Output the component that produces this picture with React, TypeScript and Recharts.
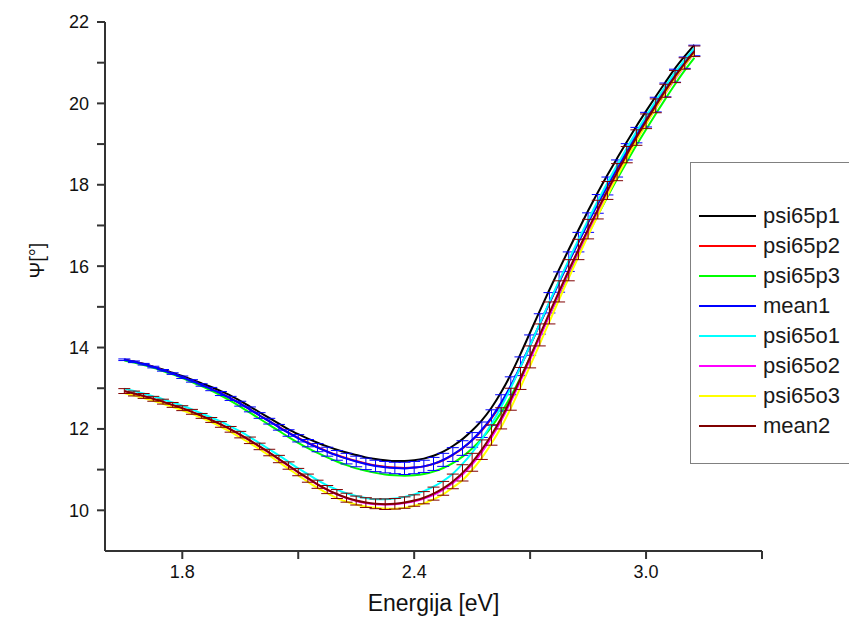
import React from "react";
import { LineChart, Line, XAxis, YAxis, ErrorBar } from "recharts";

// photon energy [eV]
const energy = [
  1.65, 1.675, 1.7, 1.725, 1.75, 1.775, 1.8, 1.825, 1.85, 1.875,
  1.9, 1.925, 1.95, 1.975, 2.0, 2.025, 2.05, 2.075, 2.1, 2.125,
  2.15, 2.175, 2.2, 2.225, 2.25, 2.275, 2.3, 2.325, 2.35, 2.375,
  2.4, 2.425, 2.45, 2.475, 2.5, 2.525, 2.55, 2.575, 2.6, 2.625,
  2.65, 2.675, 2.7, 2.725, 2.75, 2.775, 2.8, 2.825, 2.85, 2.875,
  2.9, 2.925, 2.95, 2.975, 3.0, 3.025, 3.05, 3.075, 3.1, 3.125,
];

const psi65p1 = [
  13.71, 13.66, 13.6, 13.53, 13.46, 13.38, 13.3, 13.21, 13.12, 13.03,
  12.93, 12.82, 12.69, 12.55, 12.41, 12.27, 12.13, 11.99, 11.87, 11.76,
  11.66, 11.57, 11.49, 11.42, 11.36, 11.3, 11.26, 11.23, 11.21, 11.21,
  11.23, 11.27, 11.34, 11.44, 11.58, 11.75, 11.96, 12.21, 12.52, 12.9,
  13.34, 13.84, 14.37, 14.9, 15.42, 15.92, 16.41, 16.89, 17.36, 17.81,
  18.24, 18.65, 19.05, 19.44, 19.81, 20.17, 20.52, 20.86, 21.16, 21.44,
];

const psi65p2 = [
  13.7, 13.65, 13.59, 13.52, 13.44, 13.36, 13.27, 13.18, 13.08, 12.98,
  12.87, 12.75, 12.62, 12.48, 12.33, 12.19, 12.05, 11.91, 11.78, 11.66,
  11.55, 11.45, 11.36, 11.28, 11.21, 11.15, 11.1, 11.07, 11.05, 11.04,
  11.05, 11.08, 11.14, 11.23, 11.36, 11.52, 11.72, 11.96, 12.26, 12.62,
  13.04, 13.52, 14.04, 14.57, 15.09, 15.6, 16.1, 16.59, 17.07, 17.53,
  17.98, 18.41, 18.83, 19.24, 19.63, 20.0, 20.37, 20.72, 21.04, 21.34,
];

const psi65p3 = [
  13.68, 13.63, 13.57, 13.5, 13.42, 13.34, 13.25, 13.15, 13.05, 12.94,
  12.82, 12.69, 12.55, 12.4, 12.25, 12.1, 11.95, 11.8, 11.66, 11.53,
  11.41, 11.3, 11.2, 11.11, 11.03, 10.97, 10.92, 10.88, 10.86, 10.85,
  10.86, 10.89, 10.95, 11.04, 11.16, 11.32, 11.52, 11.76, 12.05, 12.4,
  12.8, 13.26, 13.76, 14.28, 14.8, 15.31, 15.81, 16.3, 16.78, 17.25,
  17.7, 18.14, 18.56, 18.97, 19.36, 19.74, 20.11, 20.47, 20.81, 21.12,
];

const mean1 = [
  13.7, 13.65, 13.59, 13.52, 13.44, 13.36, 13.27, 13.18, 13.08, 12.98,
  12.87, 12.75, 12.62, 12.48, 12.33, 12.19, 12.04, 11.9, 11.77, 11.65,
  11.54, 11.44, 11.35, 11.27, 11.2, 11.14, 11.09, 11.06, 11.04, 11.03,
  11.05, 11.08, 11.14, 11.24, 11.37, 11.53, 11.73, 11.98, 12.28, 12.64,
  13.06, 13.54, 14.06, 14.58, 15.1, 15.61, 16.11, 16.59, 17.07, 17.53,
  17.97, 18.4, 18.81, 19.22, 19.6, 19.97, 20.33, 20.68, 21.0, 21.3,
];

const mean1Err = [
  0.02, 0.02, 0.02, 0.02, 0.02, 0.02, 0.03, 0.03, 0.03, 0.04,
  0.05, 0.05, 0.06, 0.06, 0.07, 0.07, 0.07, 0.08, 0.09, 0.09,
  0.1, 0.11, 0.12, 0.13, 0.13, 0.14, 0.14, 0.14, 0.14, 0.15,
  0.15, 0.15, 0.16, 0.16, 0.17, 0.18, 0.18, 0.19, 0.19, 0.2,
  0.22, 0.23, 0.25, 0.25, 0.25, 0.25, 0.24, 0.24, 0.24, 0.23,
  0.22, 0.21, 0.2, 0.19, 0.18, 0.18, 0.17, 0.16, 0.14, 0.13,
];

const psi65o1 = [
  12.99, 12.93, 12.87, 12.8, 12.73, 12.65, 12.57, 12.48, 12.38, 12.28,
  12.18, 12.06, 11.94, 11.8, 11.65, 11.5, 11.35, 11.19, 11.03, 10.89,
  10.74, 10.61, 10.51, 10.42, 10.35, 10.3, 10.27, 10.27, 10.29, 10.33,
  10.39, 10.47, 10.58, 10.72, 10.9, 11.14, 11.42, 11.75, 12.12, 12.54,
  13.01, 13.52, 14.05, 14.59, 15.12, 15.64, 16.15, 16.65, 17.13, 17.6,
  18.05, 18.48, 18.9, 19.3, 19.69, 20.06, 20.42, 20.76, 21.07, 21.36,
];

const psi65o2 = [
  12.92, 12.86, 12.8, 12.73, 12.66, 12.58, 12.5, 12.41, 12.31, 12.21,
  12.1, 11.98, 11.85, 11.71, 11.56, 11.41, 11.25, 11.09, 10.93, 10.78,
  10.63, 10.5, 10.39, 10.3, 10.23, 10.18, 10.15, 10.14, 10.15, 10.18,
  10.22, 10.29, 10.38, 10.51, 10.67, 10.88, 11.13, 11.43, 11.79, 12.2,
  12.67, 13.18, 13.71, 14.25, 14.79, 15.32, 15.84, 16.35, 16.85, 17.33,
  17.8, 18.25, 18.68, 19.1, 19.5, 19.88, 20.25, 20.6, 20.93, 21.24,
];

const psi65o3 = [
  12.88, 12.82, 12.76, 12.69, 12.62, 12.54, 12.46, 12.37, 12.27, 12.17,
  12.05, 11.93, 11.79, 11.65, 11.5, 11.35, 11.18, 11.02, 10.86, 10.7,
  10.55, 10.42, 10.3, 10.21, 10.14, 10.09, 10.06, 10.04, 10.04, 10.06,
  10.11, 10.17, 10.27, 10.39, 10.56, 10.74, 10.99, 11.29, 11.64, 12.04,
  12.51, 13.02, 13.55, 14.09, 14.64, 15.18, 15.71, 16.23, 16.75, 17.24,
  17.73, 18.2, 18.64, 19.08, 19.49, 19.88, 20.26, 20.62, 20.94, 21.24,
];

const mean2 = [
  12.93, 12.87, 12.81, 12.74, 12.67, 12.59, 12.51, 12.42, 12.32, 12.22,
  12.11, 11.99, 11.86, 11.72, 11.57, 11.42, 11.26, 11.1, 10.94, 10.79,
  10.64, 10.51, 10.4, 10.31, 10.24, 10.19, 10.16, 10.15, 10.16, 10.19,
  10.24, 10.31, 10.41, 10.54, 10.71, 10.92, 11.18, 11.49, 11.85, 12.26,
  12.73, 13.24, 13.77, 14.31, 14.85, 15.38, 15.9, 16.41, 16.91, 17.39,
  17.86, 18.31, 18.74, 19.16, 19.56, 19.94, 20.31, 20.66, 20.98, 21.28,
];

const mean2Err = [
  0.06, 0.06, 0.06, 0.06, 0.06, 0.06, 0.06, 0.06, 0.06, 0.06,
  0.07, 0.07, 0.08, 0.08, 0.08, 0.08, 0.09, 0.09, 0.09, 0.1,
  0.1, 0.1, 0.11, 0.11, 0.11, 0.12, 0.12, 0.13, 0.13, 0.14,
  0.14, 0.15, 0.16, 0.17, 0.18, 0.2, 0.22, 0.24, 0.25, 0.26,
  0.27, 0.27, 0.27, 0.27, 0.27, 0.26, 0.26, 0.25, 0.24, 0.23,
  0.22, 0.21, 0.2, 0.19, 0.18, 0.17, 0.16, 0.15, 0.14, 0.13,
];

const xTicks = [1.8, 2.1, 2.4, 2.7, 3.0, 3.3];
const xLabels = ["1.8", "", "2.4", "", "3.0", ""];
const yTicks = [10, 11, 12, 13, 14, 15, 16, 17, 18, 19, 20, 21, 22];

const series = [
  { key: "psi65p1", name: "psi65p1", color: "#000000" },
  { key: "psi65p2", name: "psi65p2", color: "#ff0000" },
  { key: "psi65p3", name: "psi65p3", color: "#00ff00" },
  { key: "mean1", name: "mean1", color: "#0000ff", err: "mean1Err" },
  { key: "psi65o1", name: "psi65o1", color: "#00ffff" },
  { key: "psi65o2", name: "psi65o2", color: "#ff00ff" },
  { key: "psi65o3", name: "psi65o3", color: "#ffff00" },
  { key: "mean2", name: "mean2", color: "#800000", err: "mean2Err" },
];

const data = energy.map((e, i) => ({
  e,
  psi65p1: psi65p1[i],
  psi65p2: psi65p2[i],
  psi65p3: psi65p3[i],
  mean1: mean1[i],
  mean1Err: mean1Err[i],
  psi65o1: psi65o1[i],
  psi65o2: psi65o2[i],
  psi65o3: psi65o3[i],
  mean2: mean2[i],
  mean2Err: mean2Err[i],
}));

const font = "'Liberation Sans', Arial, sans-serif";
const axisColor = "#333333";

function LegendBox() {
  return (
    <div
      style={{
        position: "absolute",
        left: 690,
        top: 162,
        width: 170,
        height: 302,
        border: "1px solid #808080",
        background: "#fff",
        boxSizing: "border-box",
        paddingTop: 38,
        fontFamily: font,
      }}
    >
      {series.map((s) => (
        <div
          key={s.key}
          style={{ display: "flex", alignItems: "center", height: 30 }}
        >
          <div
            style={{
              marginLeft: 8,
              width: 57,
              height: 2,
              background: s.color,
            }}
          />
          <span style={{ marginLeft: 7, fontSize: 22, color: "#1a1a1a" }}>
            {s.name}
          </span>
        </div>
      ))}
    </div>
  );
}

export default function App() {
  return (
    <div
      style={{
        position: "absolute",
        left: 0,
        top: 0,
        width: 849,
        height: 631,
        overflow: "hidden",
        background: "#fff",
      }}
    >
      <LineChart
        width={849}
        height={631}
        data={data}
        margin={{ top: 22, right: 87, bottom: 20, left: 45 }}
      >
        <XAxis
          dataKey="e"
          type="number"
          domain={[1.6, 3.3]}
          ticks={xTicks}
          tickFormatter={(v: number) => xLabels[xTicks.indexOf(v)] ?? ""}
          height={60}
          stroke={axisColor}
          strokeWidth={2}
          tickSize={8}
          tickMargin={6}
          tick={{ fontSize: 18, fill: "#111", fontFamily: font }}
          allowDataOverflow
          label={{
            value: "Energija [eV]",
            position: "insideBottom",
            offset: 0,
            fontSize: 23,
            fill: "#111",
            fontFamily: font,
          }}
        />
        <YAxis
          type="number"
          domain={[9, 22]}
          ticks={yTicks}
          tickFormatter={(v: number) => (v % 2 === 0 ? String(v) : "")}
          width={60}
          stroke={axisColor}
          strokeWidth={2}
          tickSize={8}
          tickMargin={8}
          tick={{ fontSize: 18, fill: "#111", fontFamily: font }}
          allowDataOverflow
          label={{
            value: "Ψ[°]",
            angle: -90,
            position: "insideLeft",
            dx: -13,
            dy: -8,
            fontSize: 20,
            fill: "#111",
            fontFamily: font,
          }}
        />
        {series.map((s) => (
          <Line
            key={s.key}
            type="monotone"
            dataKey={s.key}
            name={s.name}
            stroke={s.color}
            strokeWidth={2}
            dot={false}
            isAnimationActive={false}
          >
            {s.err ? (
              <ErrorBar
                dataKey={s.err}
                direction="y"
                width={6}
                stroke={s.color}
                strokeWidth={1}
                isAnimationActive={false}
              />
            ) : null}
          </Line>
        ))}
      </LineChart>
      <LegendBox />
    </div>
  );
}
